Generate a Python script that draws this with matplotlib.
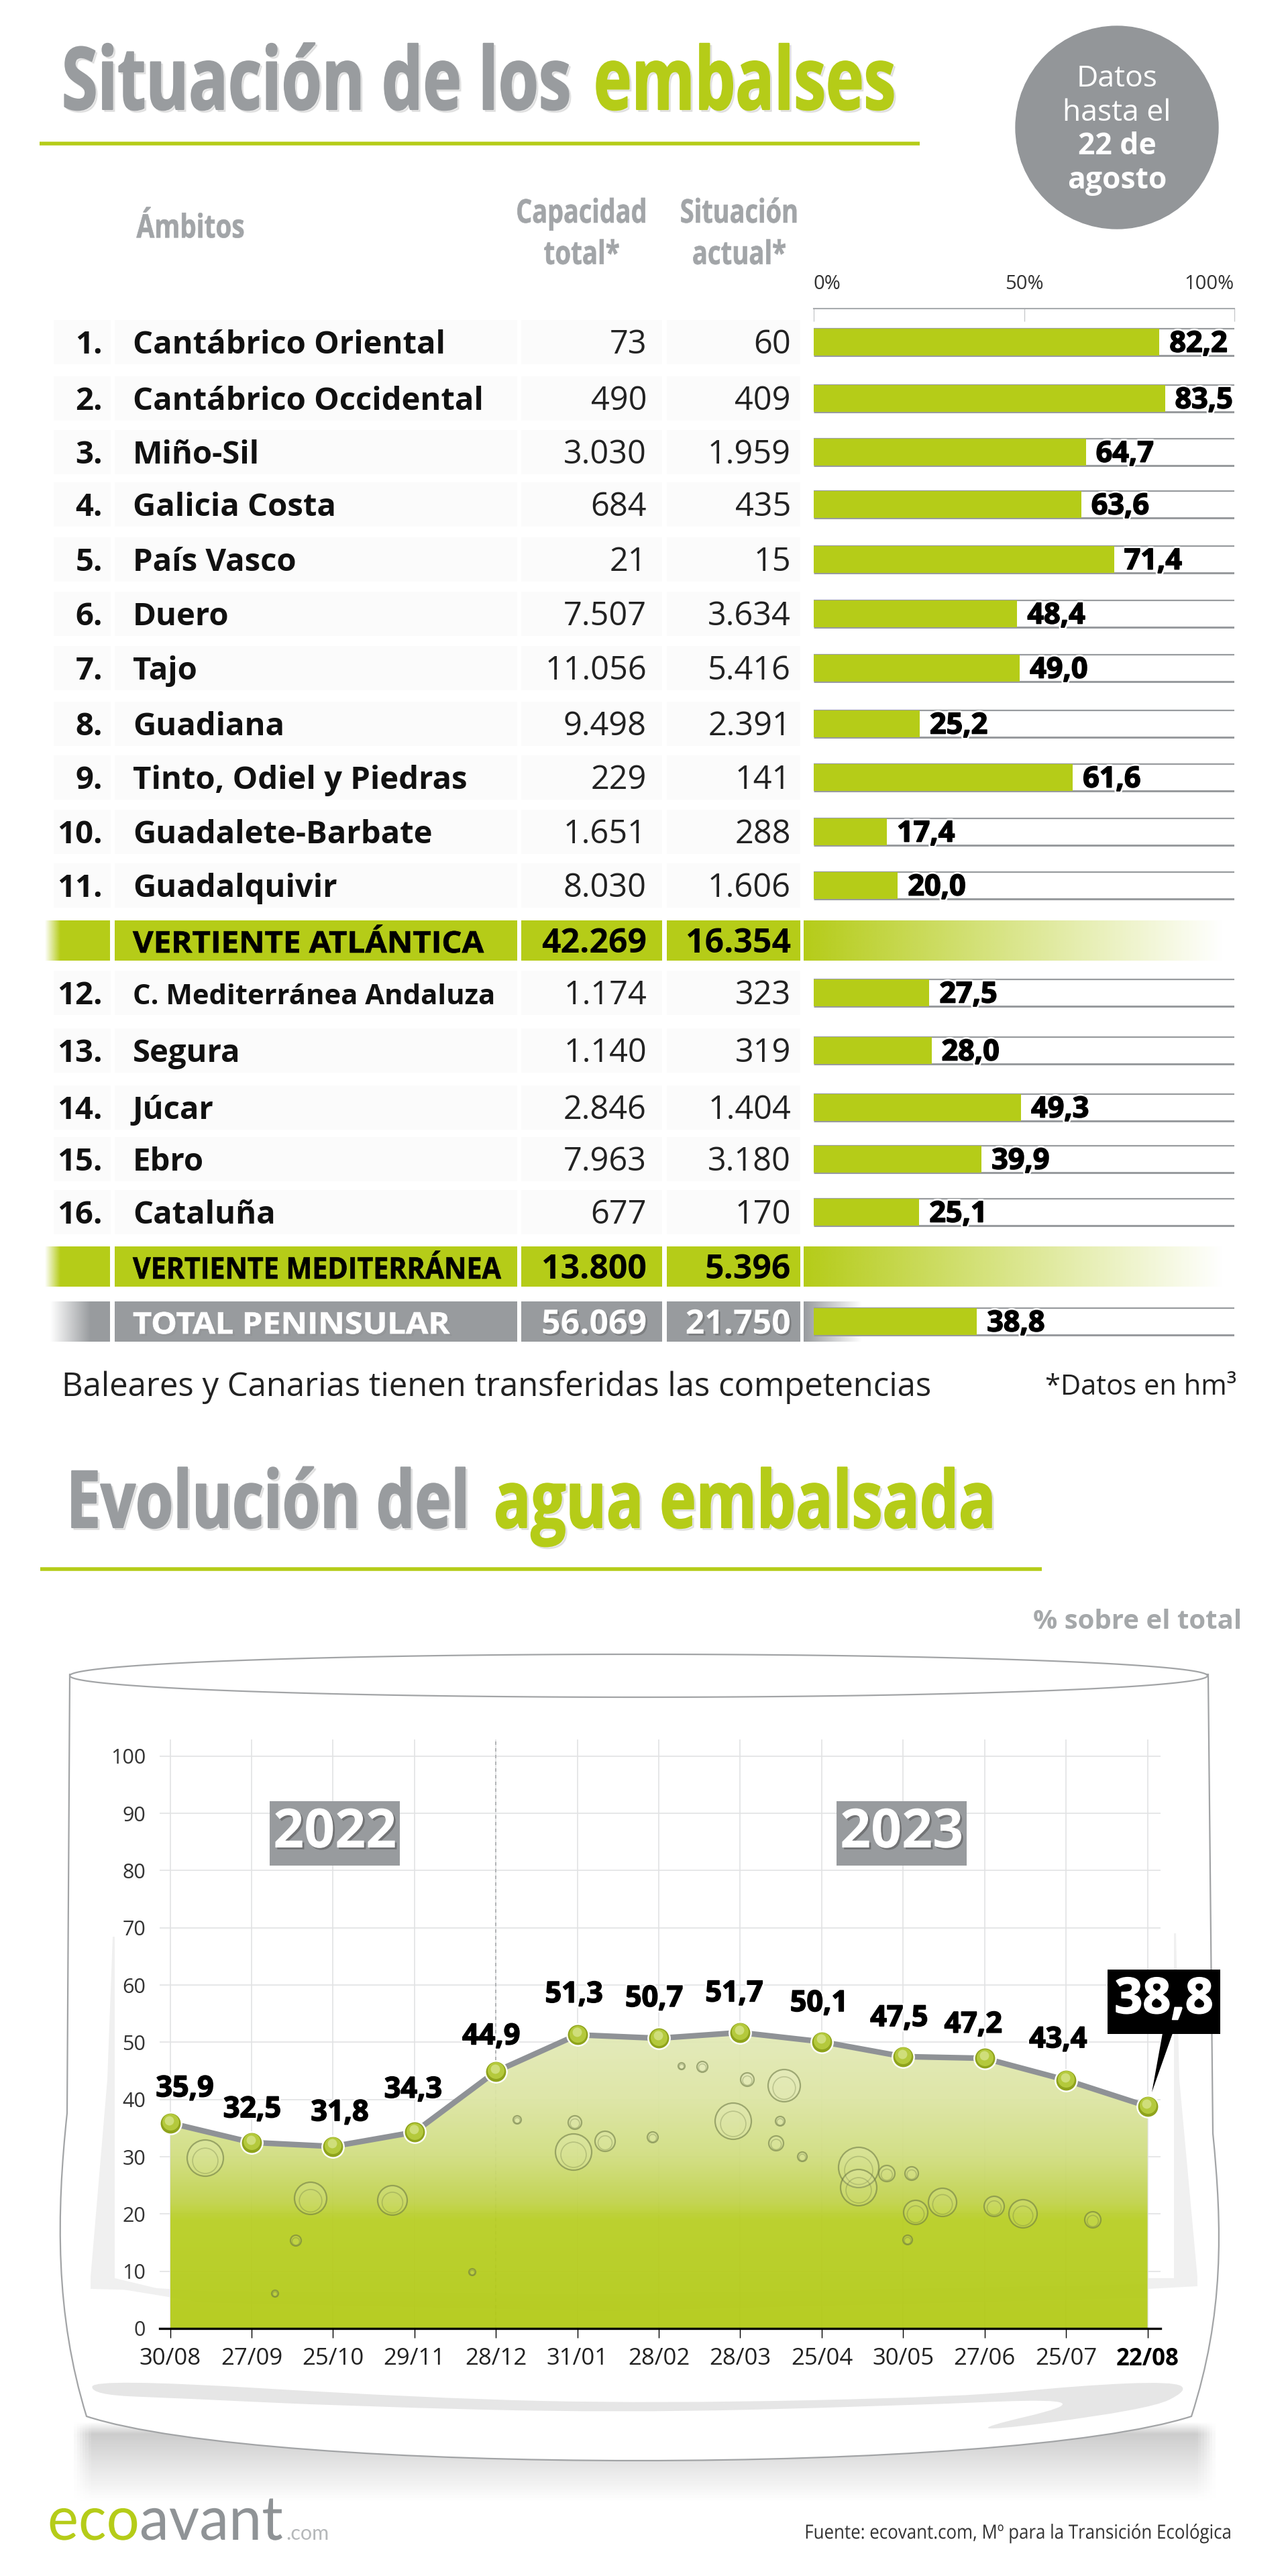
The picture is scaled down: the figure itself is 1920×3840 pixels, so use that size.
import numpy as np
import matplotlib
matplotlib.use("Agg")
import matplotlib.pyplot as plt
import matplotlib.patheffects as pe
from matplotlib.colors import to_rgb
from matplotlib.patches import Rectangle, Circle, PathPatch, Polygon
from matplotlib.path import Path
from matplotlib.transforms import Affine2D, offset_copy

# ------------------------------------------------------------
# datos
# ------------------------------------------------------------
AMBITOS = ["Cantábrico Oriental", "Cantábrico Occidental", "Miño-Sil", "Galicia Costa",
           "País Vasco", "Duero", "Tajo", "Guadiana", "Tinto, Odiel y Piedras",
           "Guadalete-Barbate", "Guadalquivir", "C. Mediterránea Andaluza", "Segura",
           "Júcar", "Ebro", "Cataluña"]
CAPACIDAD = ["73", "490", "3.030", "684", "21", "7.507", "11.056", "9.498", "229",
             "1.651", "8.030", "1.174", "1.140", "2.846", "7.963", "677"]
ACTUAL = ["60", "409", "1.959", "435", "15", "3.634", "5.416", "2.391", "141",
          "288", "1.606", "323", "319", "1.404", "3.180", "170"]
PORCENTAJE = [82.2, 83.5, 64.7, 63.6, 71.4, 48.4, 49.0, 25.2, 61.6, 17.4, 20.0,
              27.5, 28.0, 49.3, 39.9, 25.1]

VERTIENTES = ["VERTIENTE ATLÁNTICA", "VERTIENTE MEDITERRÁNEA"]
VERT_CAPACIDAD = ["42.269", "13.800"]
VERT_ACTUAL = ["16.354", "5.396"]
TOTAL_CAPACIDAD = "56.069"
TOTAL_ACTUAL = "21.750"
TOTAL_PCT = 38.8

FECHAS = ["30/08", "27/09", "25/10", "29/11", "28/12", "31/01", "28/02", "28/03",
          "25/04", "30/05", "27/06", "25/07", "22/08"]
AGUA = [35.9, 32.5, 31.8, 34.3, 44.9, 51.3, 50.7, 51.7, 50.1, 47.5, 47.2, 43.4, 38.8]

# ------------------------------------------------------------
# estilo y posiciones (pixeles de la imagen final)
# ------------------------------------------------------------
W, H = 1920, 3840
VERDE = "#B5CC18"
GRIS = "#989B9E"
plt.rcParams["font.family"] = ["Open Sans", "DejaVu Sans"]

ROW_Y = [510, 594, 674, 752, 834, 915, 996, 1079, 1159, 1240, 1320,
         1480, 1566, 1651, 1728, 1807]
BAND_Y = [1402, 1888]
TOTAL_Y = 1970
# desplazamiento de cada etiqueta respecto a su punto
LABEL_DX = [22, 1, 10, -2, -7, -5, -7, -9, -4, -6, -17, -12]
LABEL_DY = [51, 49, 50, 63, 52, 60, 59, 58, 57, 57, 50, 60]


class TallText(pe.AbstractPathEffect):
    # alarga el texto en vertical alrededor de y0 (Open Sans Condensed no esta instalada)
    def __init__(self, sy, y0, heavy=0, offset=(0, 0), color=None, alpha=None):
        super().__init__()
        self.sy, self.y0, self.heavy, self.off, self.color, self.alpha = sy, y0, heavy, offset, color, alpha

    def draw_path(self, renderer, gc, tpath, affine, rgbFace=None):
        tr = affine + Affine2D().translate(0, -self.y0).scale(1, self.sy).translate(self.off[0], self.y0 + self.off[1])
        face = rgbFace if self.color is None else to_rgb(self.color)
        gc0 = renderer.new_gc()
        gc0.copy_properties(gc)
        if self.alpha is not None:
            gc0.set_alpha(self.alpha)
        gc0.set_linewidth(self.heavy)
        if self.heavy:
            gc0.set_foreground(face)
        renderer.draw_path(gc0, tpath, tr, face)
        gc0.restore()


def px_axes(x0, y0, x1, y1, **kw):
    return fig.add_axes([x0 / W, 1 - y1 / H, (x1 - x0) / W, (y1 - y0) / H], **kw)


def fit_text(ax, x, y, s, width, fontsize, shadow=False, heavy=0, **kw):
    # texto real: cuerpo reducido hasta el ancho medido, y alto recuperado con el efecto
    t = ax.text(x, y, s, fontsize=fontsize, **kw)
    fig.canvas.draw()
    k = width / t.get_window_extent().width
    t.set_fontsize(fontsize * k)
    y0 = ax.transData.transform((x, y))[1]
    fx = [TallText(1 / k, y0, heavy)]
    if shadow:
        fx.insert(0, TallText(1 / k, y0, heavy, (3, -3), "#808080", 0.16))
    t.set_path_effects(fx)
    return t


def gradient_h(ax, x0, x1, y0, y1, color, a0, a1, zorder=1):
    img = np.ones((1, 200, 4))
    img[..., :3] = to_rgb(color)
    img[..., 3] = np.linspace(a0, a1, 200)
    ax.imshow(img, extent=[x0, x1, y1, y0], aspect="auto", zorder=zorder, interpolation="bilinear")


def blob(points):
    # contorno suave por los puntos medios
    pts = np.array(points, dtype=float)
    mids = (pts + np.roll(pts, -1, axis=0)) / 2
    verts = [mids[-1]]
    codes = [Path.MOVETO]
    for p, m in zip(pts, mids):
        verts += [p, m]
        codes += [Path.CURVE3, Path.CURVE3]
    return Path(verts, codes)


fig = plt.figure(figsize=(W / 100, H / 100), dpi=100, facecolor="white")

# fondo: un eje en pixeles para la tabla y el vaso
bg = fig.add_axes([0, 0, 1, 1], zorder=0)
bg.set_xlim(0, W)
bg.set_ylim(H, 0)
bg.axis("off")

# ------------------------------------------------------------
# titulo y tabla
# ------------------------------------------------------------
fit_text(bg, 92, 163, "Situación de los", 759, 93, shadow=True, heavy=1.5, fontweight="bold", color="#999C9F")
fit_text(bg, 885, 163, "embalses", 450, 93, shadow=True, heavy=1.5, fontweight="bold", color=VERDE)
bg.plot([59, 1371], [214, 214], color=VERDE, lw=4, solid_capstyle="butt")

bg.add_patch(Circle((1665, 190), 151, color="#939699"))
for yy, s, w in [(118, "Datos", "normal"), (169, "hasta el", "normal"),
                 (219, "22 de", "bold"), (270, "agosto", "bold")]:
    bg.text(1665, yy, s, color="white", fontsize=32, fontweight=w, ha="center", va="center")

for xx, yy, s, wd in [(284, 341, "Ámbitos", 161), (867, 319, "Capacidad", 195), (867, 381, "total*", 113),
                      (1102, 319, "Situación", 176), (1102, 381, "actual*", 140)]:
    fit_text(bg, xx, yy, s, wd, 35, heavy=0.5, fontweight="bold", color="#A2A5A8", ha="center", va="center")

CELLS = [(80, 165), (171, 771), (777, 987), (994, 1193)]
for i, (y, nombre) in enumerate(zip(ROW_Y, AMBITOS)):
    for x0, x1 in CELLS:
        bg.add_patch(Rectangle((x0, y - 33), x1 - x0, 66, color="#FBFBFB", lw=0))
    yb = y + 17
    bg.text(153, yb, f"{i + 1}.", fontsize=34, fontweight="bold", ha="right", va="baseline", color="#111111")
    size = 30.2 if i == 11 else 34
    bg.text(198, yb, nombre, fontsize=size, fontweight="bold", va="baseline", color="#111111")
    bg.text(964, yb, CAPACIDAD[i], fontsize=35, va="baseline", ha="right", color="#222222")
    bg.text(1179, yb, ACTUAL[i], fontsize=35, va="baseline", ha="right", color="#222222")

for k, y in enumerate(BAND_Y):
    gradient_h(bg, 67, 90, y - 30, y + 30, VERDE, 0, 1)
    bg.add_patch(Rectangle((90, y - 30), 74, 60, color=VERDE, lw=0))
    for x0, x1 in CELLS[1:]:
        bg.add_patch(Rectangle((x0, y - 30), x1 - x0, 60, color=VERDE, lw=0))
    gradient_h(bg, 1198, 1825, y - 30, y + 30, VERDE, 1, 0)
    yb = y + 18
    fit_text(bg, 198, yb, VERTIENTES[k], 524 if k == 0 else 550, 32, heavy=0.5, fontweight="bold", va="baseline", color="black")
    bg.text(964, yb, VERT_CAPACIDAD[k], fontsize=36, fontweight="bold", va="baseline", ha="right", color="black")
    bg.text(1179, yb, VERT_ACTUAL[k], fontsize=36, fontweight="bold", va="baseline", ha="right", color="black")

y = TOTAL_Y
gradient_h(bg, 75, 135, y - 30, y + 30, GRIS, 0, 1)
bg.add_patch(Rectangle((135, y - 30), 29, 60, color=GRIS, lw=0))
for x0, x1 in CELLS[1:]:
    bg.add_patch(Rectangle((x0, y - 30), x1 - x0, 60, color=GRIS, lw=0))
gradient_h(bg, 1198, 1285, y - 30, y + 30, GRIS, 1, 0)
shadow_w = [pe.withSimplePatchShadow(offset=(2, -2), alpha=0.35)]
fit_text(bg, 198, y + 18, "TOTAL PENINSULAR", 473, 32, shadow=True, heavy=0.5, fontweight="bold", va="baseline", color="white")
bg.text(964, y + 18, TOTAL_CAPACIDAD, fontsize=36, fontweight="bold", va="baseline", ha="right", color="white", path_effects=shadow_w)
bg.text(1179, y + 18, TOTAL_ACTUAL, fontsize=36, fontweight="bold", va="baseline", ha="right", color="white", path_effects=shadow_w)

bg.text(92, 2068, "Baleares y Canarias tienen transferidas las competencias", fontsize=35.3,
        va="center", color="#222222")
bg.text(1843, 2068, "*Datos en hm³", fontsize=30, va="center", ha="right", color="#222222")

# ------------------------------------------------------------
# barras
# ------------------------------------------------------------
ax_bar = px_axes(1213, 460, 1840, 2000, zorder=2)
ax_bar.patch.set_alpha(0)
ax_bar.set_xlim(0, 100)
ax_bar.set_ylim(2000, 460)
for s in ["left", "right", "bottom"]:
    ax_bar.spines[s].set_visible(False)
ax_bar.spines["top"].set_color("#A8ABAE")
ax_bar.spines["top"].set_linewidth(1.5)
ax_bar.set_yticks([])
ax_bar.xaxis.tick_top()
ax_bar.set_xticks([0, 50, 100], ["0%", "50%", "100%"])
ax_bar.tick_params(axis="x", direction="in", length=14, width=1, color="#C8CACC", pad=16,
                   labelsize=21, labelcolor="#333333")
for lab, ha in zip(ax_bar.get_xticklabels(), ["left", "center", "right"]):
    lab.set_ha(ha)

bar_y = ROW_Y + [TOTAL_Y]
bar_v = PORCENTAJE + [TOTAL_PCT]
halo = [pe.withStroke(linewidth=5, foreground="white"), pe.withStroke(linewidth=1.2, foreground="black")]
ax_bar.hlines(np.array(bar_y) - 20, 0, 100, color=GRIS, lw=1.6, zorder=2)
ax_bar.hlines(np.array(bar_y) + 20, 0, 100, color=GRIS, lw=2.2, zorder=2)
ax_bar.barh(bar_y, bar_v, height=40, color=VERDE, zorder=3)
for yy, v in zip(bar_y, bar_v):
    ax_bar.annotate(f"{v:.1f}".replace(".", ","), (v, yy), xytext=(15, -3), textcoords="offset pixels",
                    fontsize=31, fontweight="bold", va="center", color="black", path_effects=halo,
                    zorder=4, annotation_clip=False)

# ------------------------------------------------------------
# segundo titulo y vaso
# ------------------------------------------------------------
fit_text(bg, 99, 2277, "Evolución del", 601, 85, shadow=True, heavy=1.5, fontweight="bold", color="#999C9F")
fit_text(bg, 736, 2277, "agua embalsada", 749, 85, shadow=True, heavy=1.5, fontweight="bold", color=VERDE)
bg.plot([60, 1553], [2339, 2339], color=VERDE, lw=4, solid_capstyle="butt")
bg.text(1851, 2417, "% sobre el total", fontsize=29, fontweight="bold", color="#A5A8AA",
        ha="right", va="center")

# sombra de la base
v_mask = np.interp(np.linspace(3610, 3730, 120), [3610, 3628, 3670, 3730], [0, 0.5, 0.28, 0])
h_mask = np.interp(np.linspace(106, 1816, 400), [106, 135, 1785, 1816], [0, 1, 1, 0])
sombra = np.full((120, 400, 4), 0.6)
sombra[..., 3] = np.outer(v_mask, h_mask)
bg.imshow(sombra, extent=[106, 1816, 3730, 3610], aspect="auto", zorder=0.5)

VASO = Path([(104, 2496), (100, 3150), (84, 3300), (82, 3450), (129, 3602),
             (400, 3690), (1500, 3690), (1776, 3602),
             (1825, 3450), (1822, 3320), (1808, 3180), (1801, 2496),
             (104, 2496)],
            [Path.MOVETO, Path.LINETO, Path.CURVE4, Path.CURVE4, Path.CURVE4,
             Path.CURVE4, Path.CURVE4, Path.CURVE4,
             Path.CURVE4, Path.CURVE4, Path.CURVE4, Path.LINETO, Path.CLOSEPOLY])
bg.add_patch(PathPatch(VASO, facecolor="white", edgecolor="#A2A4A6", lw=1.6, zorder=0.7))
# brillos del vidrio
BRILLO = "#F0F0F0"
bg.add_patch(Polygon([(168, 2887), (171, 2887), (171, 3396), (250, 3415), (135, 3412), (135, 3395), (160, 3100)],
                     color=BRILLO, lw=0, zorder=0.8))
bg.add_patch(Polygon([(1750, 2882), (1753, 2882), (1758, 3100), (1785, 3395), (1785, 3408), (1712, 3412),
                      (1712, 3396), (1750, 3396)], color=BRILLO, lw=0, zorder=0.8))
bg.add_patch(Polygon([(135, 3405), (300, 3432), (900, 3445), (1710, 3425), (1710, 3405), (900, 3420), (300, 3415)],
                     color=BRILLO, lw=0, zorder=0.8))
bg.add_patch(PathPatch(blob([(140, 3545), (634, 3575), (978, 3583), (1438, 3573), (1610, 3556), (1748, 3550),
                             (1772, 3563), (1713, 3592), (1403, 3632), (1656, 3573), (1323, 3587), (921, 3597),
                             (519, 3587), (267, 3575), (135, 3570)]),
                       facecolor="#E6E6E6", lw=0, zorder=0.8))
t_ell = np.linspace(0, 2 * np.pi, 300)
bg.add_patch(Polygon(np.c_[952 + 848 * np.cos(t_ell), 2498 + 32 * np.sin(t_ell)], closed=True,
                     facecolor="white", edgecolor="#A2A4A6", lw=1.6, zorder=0.9))

LOGO = ["Lato", "Open Sans"]
fit_text(bg, 71, 3786, "eco", 137, 66, color=VERDE, family=LOGO, va="baseline")
fit_text(bg, 208, 3786, "avant", 214, 66, color="#8F9396", family=LOGO, va="baseline")
bg.text(426, 3786, ".com", fontsize=22, color="#B5B8BA", family=LOGO, va="baseline")
fit_text(bg, 1837, 3777, "Fuente: ecovant.com, Mº para la Transición Ecológica", 637, 21, color="#333333",
         ha="right", va="center")

# ------------------------------------------------------------
# grafico de linea
# ------------------------------------------------------------
ax = px_axes(238, 2593, 1730, 3471, zorder=2)
ax.patch.set_alpha(0)
x = np.arange(len(AGUA))
ax.set_xticks(x, FECHAS)
ax.set_yticks(np.arange(0, 101, 10))
ax.grid(True, color="#E2E3E4", lw=1.2, zorder=0)
ax.set_axisbelow(True)
for s in ["left", "right", "top"]:
    ax.spines[s].set_visible(False)
ax.spines["bottom"].set_color("black")
ax.spines["bottom"].set_linewidth(2.4)
ax.tick_params(axis="y", length=0, pad=15, labelsize=22, labelcolor="#333333")
ax.tick_params(axis="x", length=10, width=1, color="black", pad=10, labelsize=25, labelcolor="#222222")
ax.get_xticklabels()[-1].set_fontweight("bold")
ax.get_xticklabels()[-1].set_color("black")
ax.axvline(x[4], color="#A9ACAE", lw=1.2, ls=(0, (3, 3)), zorder=1)

# relleno con degradado
stops_y = [0, 19, 22, 30, 40, 52]
stops_c = [to_rgb(c) for c in ["#B2CA14", "#B8CE22", "#C0D248", "#D0DD7E", "#DCE5A2", "#E3EAB8"]]
yy = np.linspace(52, 0, 256)
grad = np.ones((256, 1, 4))
for c in range(3):
    grad[:, 0, c] = np.interp(yy, stops_y, [s[c] for s in stops_c])
grad[:, 0, 3] = 0.94
fill = ax.fill_between(x, 0, AGUA, color="none", lw=0)
im = ax.imshow(grad, extent=[x[0], x[-1], 0, 52], aspect="auto", zorder=2, interpolation="bilinear")
im.set_clip_path(fill.get_paths()[0], transform=ax.transData)

# burbujas
BURBUJAS = [(306, 3217, 27), (463, 3277, 24), (585, 3280, 22), (855, 3208, 27), (902, 3192, 15),
            (857, 3164, 10), (771, 3160, 6), (973, 3186, 8), (441, 3340, 8), (1093, 3162, 27),
            (1169, 3109, 24), (1114, 3100, 10), (1157, 3195, 11), (1280, 3231, 30), (1280, 3261, 27),
            (1322, 3240, 12), (1359, 3240, 10), (1405, 3283, 21), (1365, 3298, 18), (1482, 3289, 15),
            (1525, 3300, 21), (1629, 3309, 12), (1353, 3339, 7), (1016, 3080, 5), (1047, 3081, 8),
            (1196, 3215, 7), (1163, 3162, 7), (704, 3387, 5), (410, 3419, 5)]
for bx, by, br in BURBUJAS:
    ax.add_patch(Circle((bx, by), br, transform=bg.transData, facecolor=(1, 1, 1, 0.1),
                        edgecolor=(0.4, 0.45, 0.25, 0.55), lw=1.6, zorder=3, clip_on=False))
    ax.add_patch(Circle((bx, by + br * 0.15), br * 0.7, transform=bg.transData, facecolor="none",
                        edgecolor=(0.4, 0.45, 0.25, 0.3), lw=1.2, zorder=3, clip_on=False))

ax.plot(x, AGUA, color="#8F9296", lw=6, zorder=4, solid_joinstyle="round", clip_on=False)
ax.plot(x, AGUA, "o", ms=24, mfc="white", mec="white", zorder=5, clip_on=False)
ax.plot(x, AGUA, "o", ms=21.5, mfc="#8FA31C", mec="none", zorder=6, clip_on=False)
brillo_1 = offset_copy(ax.transData, fig=fig, x=0, y=1.2, units="points")
ax.plot(x, AGUA, "o", ms=18, mfc="#B4C93C", mec="none", zorder=7, clip_on=False, transform=brillo_1)
brillo_2 = offset_copy(ax.transData, fig=fig, x=-0.8, y=3, units="points")
ax.plot(x, AGUA, "o", ms=10, mfc="#CFDE7A", mec="none", zorder=7, clip_on=False, transform=brillo_2)

for i in range(len(AGUA) - 1):
    ax.annotate(f"{AGUA[i]:.1f}".replace(".", ","), (x[i], AGUA[i]),
                xytext=(LABEL_DX[i], LABEL_DY[i]), textcoords="offset pixels",
                fontsize=31, fontweight="bold", ha="center", va="center", color="black",
                path_effects=halo, zorder=8, annotation_clip=False)

ax.set_xlim(-0.128, 12.16)
ax.set_ylim(0, 102.9)

# capa superior: cajas de anio y etiqueta final
top = fig.add_axes([0, 0, 1, 1], zorder=3)
top.patch.set_alpha(0)
top.set_xlim(0, W)
top.set_ylim(H, 0)
top.axis("off")
for bx, s in [(402, "2022"), (1247, "2023")]:
    top.add_patch(Rectangle((bx, 2685), 194, 96, color=GRIS, lw=0))
    top.text(bx + 97, 2733, s, fontsize=58, fontweight="bold", color="white", ha="center", va="center",
             path_effects=[pe.withSimplePatchShadow(offset=(2, -2), alpha=0.5)])
top.add_patch(Rectangle((1651, 2936), 168, 96, color="black", lw=0))
top.add_patch(Polygon([(1733, 3031), (1748, 3031), (1717, 3119)], color="black", lw=0))
top.text(1735, 2982, "38,8", fontsize=53, fontweight="bold", color="white", ha="center", va="center",
         path_effects=[pe.withStroke(linewidth=1.2, foreground="white")])

fig.savefig("out.png", dpi=100)
plt.close(fig)
